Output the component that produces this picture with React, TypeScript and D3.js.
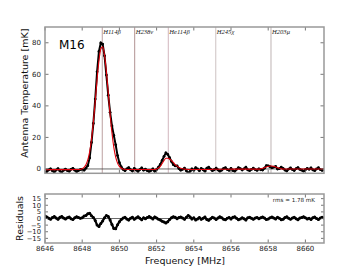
import React from 'react';
import * as d3 from 'd3';

// channel grid, 0.1 MHz steps from 8646.0 to 8661.0
const freqs = d3.range(151).map(i => +(8646 + i * 0.1).toFixed(1));

// fitted model [mK], one value per channel
const model = [
  -0.4, -0.4, -0.4, -0.4, -0.4, -0.4, -0.4, -0.4, -0.4, -0.4,
  -0.4, -0.4, -0.4, -0.4, -0.4, -0.4, -0.3, -0.3, -0.3, -0.3,
  0.2, 1.0, 2.7, 5.7, 10.9, 18.8, 29.7, 42.8, 56.6, 68.5,
  76.1, 77.4, 72.2, 61.7, 48.4, 34.7, 22.8, 13.7, 7.5, 3.7,
  1.6, 0.5, 0.0, -0.2, -0.3, -0.3, -0.3, -0.3, -0.3, -0.3,
  -0.3, -0.3, -0.3, -0.3, -0.3, -0.3, -0.3, -0.3, -0.3, -0.3,
  0.0, 0.6, 1.7, 3.5, 5.4, 6.8, 6.8, 6.3, 5.3, 4.1,
  2.8, 1.8, 1.0, 0.4, 0.1, -0.1, -0.2, -0.3, -0.3, -0.3,
  -0.3, -0.3, -0.3, -0.3, -0.3, -0.3, -0.3, -0.3, -0.3, -0.3,
  -0.2, -0.2, -0.2, -0.2, -0.2, -0.2, -0.2, -0.2, -0.2, -0.2,
  -0.1, -0.1, -0.1, -0.1, -0.1, -0.1, -0.1, -0.1, -0.1, -0.1,
  -0.1, -0.1, -0.1, -0.1, -0.1, -0.1, 0.1, 0.4, 0.8, 1.3,
  1.6, 1.9, 1.9, 1.6, 1.3, 0.8, 0.4, 0.1, -0.1, 0.0,
  0.0, 0.0, 0.0, 0.0, 0.0, 0.0, 0.0, 0.0, 0.0, 0.0,
  0.0, 0.0, 0.0, 0.0, 0.0, 0.0, 0.0, 0.0, 0.0, 0.0,
  0.0,
];

// residuals (model - data) [mK]
const residuals = [
  1.8, 1.2, 0.2, -0.5, 0.8, 1.5, 0.3, -0.6, 0.9, 1.6,
  0.4, -0.3, 0.6, 1.1, -0.2, -0.8, 0.5, 1.4, 0.7, 0.1,
  0.5, 1.8, 2.2, 3.6, 3.9, 2.0, 0.8, -1.5, -5.0, -6.0,
  -3.8, -1.8, 0.5, 2.2, 1.6, -1.2, -4.5, -7.5, -7.8, -4.8,
  -2.4, -0.8, 0.3, 0.9, -0.4, -1.2, 0.2, 1.0, -0.6, 0.4,
  1.3, 0.1, -0.9, 0.5, -0.2, 0.8, 1.5, 0.6, -0.3, 1.2,
  0.4, -0.5, -1.2, -2.0, -2.6, -3.4, -2.4, -0.8, 0.6, 1.4,
  0.9, -0.2, 0.7, 1.2, 0.3, -0.6,
  1.0, 2.3, 1.2, -0.4, 0.5, -1.1, -0.3, 0.8, -0.6, 0.2,
  1.1, -0.8, -1.4, -0.2, 0.9, 0.3, -0.7, 0.4, 1.3, 0.6,
  -0.5, -1.0, 0.2, 0.7, -0.4, 0.9, 1.4, 0.1, -0.9, -0.3,
  0.6, -0.2, -1.2, 0.5, 1.0, 0.2, -0.6, 0.3, 0.8,
  -0.2, 0.6, 1.1, 0.3, -0.8, -0.4, 0.5, 1.2, 0.4, -0.3,
  0.9, 0.2, -1.0, -0.5, 0.7, 1.3, 0.1, -0.6, 0.4, 1.0,
  -0.2, -0.9, 0.3, 0.8, 1.4, 0.5, -0.4, 0.2, -0.7, 0.6,
  1.1, 0.0, -0.8, 0.4, 0.9, 0.3,
];

// observed spectrum = model - residual
const spectrum = model.map((m, i) => m - residuals[i]);

const lineNames = ['H114β', 'H238ν', 'He114β', 'H245χ', 'H203μ'];
const lineFreqs = [8649.08, 8650.82, 8652.63, 8655.18, 8658.15];
const lineColors = ['#c2a9a9', '#b89c9c', '#d6bcc4', '#d2c8c8', '#c4baba'];

const xTicks = [8646, 8648, 8650, 8652, 8654, 8656, 8658, 8660];
const yTicksTop = [0, 20, 40, 60, 80];
const yTicksRes = [-15, -10, -5, 0, 5, 10, 15];

const W = 360, H = 270;
const left = 45, right = 324;
const top1 = 27, bot1 = 173.3;
const top2 = 194, bot2 = 243;
const font = 'DejaVu Sans, sans-serif';
const frame = '#999999';
const tickCol = '#555555';

export default function App() {
  const x = d3.scaleLinear().domain([8646, 8661]).range([left, right]);
  const yT = d3.scaleLinear().domain([-2.75, 90]).range([bot1, top1]);
  const yR = d3.scaleLinear().domain([-18.5, 18.5]).range([bot2, top2]);

  const specLine = d3.line<number>().x((_, i) => x(freqs[i])).y(d => yT(d));
  const modelLine = d3.line<number>().x((_, i) => x(freqs[i])).y(d => yT(d)).curve(d3.curveMonotoneX);
  const resLine = d3.line<number>().x((_, i) => x(freqs[i])).y(d => yR(d));

  const fmt = (v: number) => (v < 0 ? '\u2212' + Math.abs(v) : String(v));

  return (
    <svg width={W} height={H} style={{ position: 'absolute', left: 0, top: 0, background: '#fff' }}>
      <defs>
        <clipPath id="c1"><rect x={left} y={top1} width={right - left} height={bot1 - top1} /></clipPath>
        <clipPath id="c2"><rect x={left} y={top2} width={right - left} height={bot2 - top2} /></clipPath>
      </defs>

      {/* top panel */}
      <g clipPath="url(#c1)">
        {lineFreqs.map((f, i) => (
          <line key={i} x1={x(f)} x2={x(f)} y1={top1} y2={bot1} stroke={lineColors[i]} strokeWidth={1.1} />
        ))}
        <line x1={left} x2={right} y1={yT(0)} y2={yT(0)} stroke="#444" strokeWidth={0.8} />
        <path d={specLine(spectrum) || ''} fill="none" stroke="#000" strokeWidth={2} />
        {spectrum.map((d, i) => (
          <circle key={i} cx={x(freqs[i])} cy={yT(d)} r={1.4} fill="#000" />
        ))}
        <path d={modelLine(model) || ''} fill="none" stroke="#e0000a" strokeWidth={1.1} />
      </g>
      {lineFreqs.map((f, i) => (
        <text key={i} x={x(f) + 1} y={34} fontFamily="Liberation Serif, serif" fontStyle="italic" fontSize={6.6} fill="#222">
          {lineNames[i]}
        </text>
      ))}
      <text x={59} y={48.5} fontFamily={font} fontSize={12} fill="#000">M16</text>

      {/* ticks top panel */}
      {xTicks.map(t => (
        <g key={t}>
          <line x1={x(t)} x2={x(t)} y1={top1} y2={top1 + 3.5} stroke={tickCol} strokeWidth={0.8} />
          <line x1={x(t)} x2={x(t)} y1={bot1} y2={bot1 - 3.5} stroke={tickCol} strokeWidth={0.8} />
        </g>
      ))}
      {yTicksTop.map(t => (
        <g key={t}>
          <line x1={left} x2={left + 3.5} y1={yT(t)} y2={yT(t)} stroke={tickCol} strokeWidth={0.8} />
          <line x1={right} x2={right - 3.5} y1={yT(t)} y2={yT(t)} stroke={tickCol} strokeWidth={0.8} />
          <text x={41} y={yT(t)} dy="0.35em" textAnchor="end" fontFamily={font} fontSize={7} fill="#222">{t}</text>
        </g>
      ))}
      <rect x={left} y={top1} width={right - left} height={bot1 - top1} fill="none" stroke={frame} strokeWidth={1.5} />

      {/* residual panel */}
      <g clipPath="url(#c2)">
        <line x1={left} x2={right} y1={yR(0)} y2={yR(0)} stroke="#444" strokeWidth={0.8} />
        <path d={resLine(residuals) || ''} fill="none" stroke="#000" strokeWidth={2.2} />
        {residuals.map((d, i) => (
          <circle key={i} cx={x(freqs[i])} cy={yR(d)} r={1.5} fill="#000" />
        ))}
      </g>
      <text x={315} y={200} dy="0.35em" textAnchor="end" fontFamily={font} fontSize={5.6} fill="#222">rms =  1.78 mK</text>
      {xTicks.map(t => (
        <g key={t}>
          <line x1={x(t)} x2={x(t)} y1={top2} y2={top2 + 3.5} stroke={tickCol} strokeWidth={0.8} />
          <line x1={x(t)} x2={x(t)} y1={bot2} y2={bot2 - 3.5} stroke={tickCol} strokeWidth={0.8} />
          <text x={x(t)} y={251} textAnchor="middle" fontFamily={font} fontSize={7} fill="#222">{t}</text>
        </g>
      ))}
      {yTicksRes.map(t => (
        <g key={t}>
          <line x1={left} x2={left + 3} y1={yR(t)} y2={yR(t)} stroke={tickCol} strokeWidth={0.8} />
          <line x1={right} x2={right - 3} y1={yR(t)} y2={yR(t)} stroke={tickCol} strokeWidth={0.8} />
          <text x={41} y={yR(t)} dy="0.35em" textAnchor="end" fontFamily={font} fontSize={6.8} fill="#222">{fmt(t)}</text>
        </g>
      ))}
      <rect x={left} y={top2} width={right - left} height={bot2 - top2} fill="none" stroke={frame} strokeWidth={1.5} />

      {/* axis labels */}
      <text transform={`translate(27.5,${(top1 + bot1) / 2 - 7}) rotate(-90)`} textAnchor="middle" fontFamily={font} fontSize={9.5} fill="#111">
        Antenna Temperature [mK]
      </text>
      <text transform={`translate(22.5,${(top2 + bot2) / 2}) rotate(-90)`} textAnchor="middle" fontFamily={font} fontSize={9.5} fill="#111">
        Residuals
      </text>
      <text x={185} y={264} textAnchor="middle" fontFamily={font} fontSize={9.5} fill="#111">Frequency [MHz]</text>
    </svg>
  );
}
